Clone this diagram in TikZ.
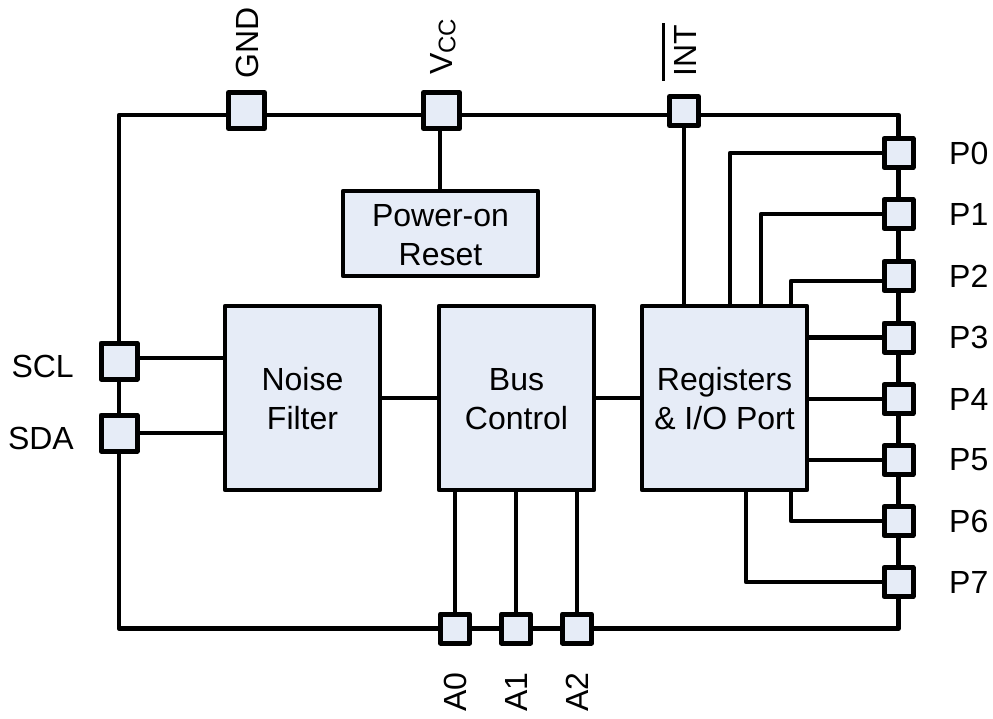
\documentclass[tikz,border=0pt]{standalone}
\usepackage{fontspec}
\setmainfont{Liberation Sans}
\usetikzlibrary{backgrounds}
\definecolor{boxfill}{HTML}{E6ECF7}
\newcommand{\twolines}[2]{\rule{0pt}{32pt}#1\\#2\rule[-8pt]{0pt}{8pt}}
\tikzset{
  x=1pt,y=-1pt,
  every node/.style={font=\fontsize{32}{39}\selectfont},
  wire/.style={line width=4.3pt,line join=round},
  block/.style={draw,line width=4.5pt,fill=boxfill,line join=round,inner sep=0pt,align=center,anchor=center},
  pad/.style={draw,line width=5pt,fill=boxfill,line join=round,inner sep=0pt,minimum size=29pt},
  bigpad/.style={pad,minimum size=36pt},
  lab/.style={inner sep=0pt,anchor=center},
}
\begin{document}
\begin{tikzpicture}
\useasboundingbox (0,0) rectangle (993,718);
% blocks
\node[block,minimum width=195pt,minimum height=85pt] (reset) at (440.5,233.5) {\twolines{Power-on}{Reset}};
\node[block,minimum width=155pt,minimum height=184pt] (noise) at (302.5,398) {\twolines{Noise}{Filter}};
\node[block,minimum width=155pt,minimum height=184pt] (bus) at (516.5,398) {\twolines{Bus}{Control}};
\node[block,minimum width=165pt,minimum height=184pt] (reg) at (724.5,398) {\twolines{Registers}{\& I/O Port}};
% pads
\node[bigpad] (gnd) at (246.5,110.5) {};
\node[bigpad] (vcc) at (441.5,110.5) {};
\node[pad] (int) at (684,111) {};
\node[bigpad] (scl) at (119,361) {};
\node[bigpad] (sda) at (119,433) {};
\foreach \n/\y in {0/153,1/214,2/276,3/337.5,4/399,5/460,6/521,7/582}{
  \node[pad] (p\n) at (898.5,\y) {};
  \node[lab,anchor=west] (lp\n) at (949,\y) {P\n};
}
\node[pad] (a0) at (455,628.5) {};
\node[pad] (a1) at (516,628.5) {};
\node[pad] (a2) at (577,628.5) {};
% labels
\node[lab,rotate=90,anchor=west] (lgnd) at (247.5,78.5) {GND};
\node[lab,rotate=90,anchor=west] (lvcc) at (443,75) {V\raisebox{-3pt}{\fontsize{24}{24}\selectfont CC}};
\node[lab,rotate=90,anchor=west] (lint) at (679,77) {\rlap{\hspace{-4pt}\raisebox{31pt}{\rule{58pt}{3pt}}}INT};
\node[lab,anchor=east] (lscl) at (74,366) {SCL};
\node[lab,anchor=east] (lsda) at (74,438) {SDA};
\node[lab,rotate=90,anchor=east] (la0) at (455,672) {A0};
\node[lab,rotate=90,anchor=east] (la1) at (516,672) {A1};
\node[lab,rotate=90,anchor=east] (la2) at (577,672) {A2};
% anchors on blocks
\coordinate (r0) at (730,306);
\coordinate (r1) at (761,306);
\coordinate (r2) at (791,306);
\coordinate (r2b) at (791,281);
\coordinate (r6) at (791,490);
\coordinate (r7) at (746,490);
\coordinate (tl) at (119,115);
\coordinate (tr) at (898.5,115);
\coordinate (bl) at (119,628.5);
\coordinate (br) at (898.5,628.5);
\begin{scope}[on background layer]
\draw[wire] (sda) -- (bl) -- (a0) -- (a1) -- (a2) -- (br) -- (p7);
\draw[wire] (p7) -- (p6) -- (p5) -- (p4) -- (p3) -- (p2) -- (p1) -- (p0) -- (tr) -- (int.center |- tr) -- (vcc.center |- tr) -- (tl) -- (scl);
\draw[wire] (scl) -- (sda);
\draw[wire] (440,115) -- (reset.north -| 440,0);
\draw[wire] (int) -- (int |- reg.north);
\draw[wire] (r0) |- (p0);
\draw[wire] (r1) |- (p1);
\draw[wire] (r2) -- (r2b) -- (r2b -| p2);
\draw[wire] (reg.east |- p3) -- (p3);
\draw[wire] (reg.east |- p4) -- (p4);
\draw[wire] (reg.east |- p5) -- (p5);
\draw[wire] (r6) |- (p6);
\draw[wire] (r7) |- (p7);
\draw[wire] (noise.west |- 0,358) -- (scl.center |- 0,358);
\draw[wire] (noise.west |- sda) -- (sda);
\draw[wire] (noise) -- (bus);
\draw[wire] (bus) -- (reg);
\draw[wire] (a0 |- bus.south) -- (a0);
\draw[wire] (a1 |- bus.south) -- (a1);
\draw[wire] (a2 |- bus.south) -- (a2);
\end{scope}
\end{tikzpicture}
\end{document}
